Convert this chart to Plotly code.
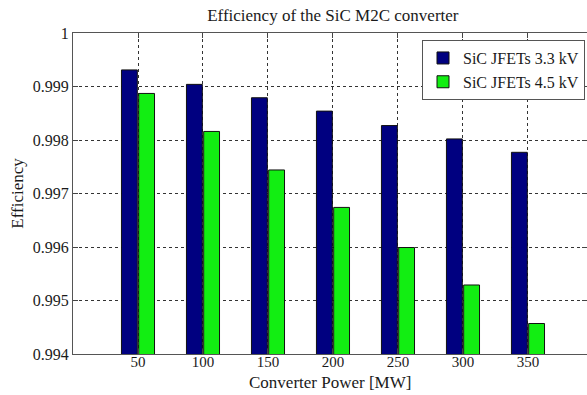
import plotly.graph_objects as go

# Converter power levels [MW]
power_mw = [50, 100, 150, 200, 250, 300, 350]

# Efficiency of the SiC M2C converter for the two JFET voltage classes
eff_jfet_33kv = [0.99931, 0.99904, 0.99879, 0.99854, 0.99827, 0.99802, 0.99777]
eff_jfet_45kv = [0.99887, 0.99816, 0.99744, 0.99674, 0.99599, 0.99529, 0.99457]

y_ticks = [0.994, 0.995, 0.996, 0.997, 0.998, 0.999, 1.0]
y_tick_text = ["0.994", "0.995", "0.996", "0.997", "0.998", "0.999", "1"]

FONT = "Liberation Serif, Times New Roman, serif"
INK = "#1a1a1a"
FS = 17

fig = go.Figure()
fig.add_trace(go.Bar(
    x=power_mw, y=eff_jfet_33kv, name="SiC JFETs 3.3 kV",
    marker=dict(color="#000080", line=dict(color="#111111", width=1)),
))
fig.add_trace(go.Bar(
    x=power_mw, y=eff_jfet_45kv, name="SiC JFETs 4.5 kV",
    marker=dict(color="#12EE12", line=dict(color="#111111", width=1)),
))

axis_common = dict(
    showline=True, linecolor="#555555", linewidth=1,
    showgrid=True, gridcolor="#333333", griddash="dot", gridwidth=1,
    ticks="inside", ticklen=5, tickcolor="#444444",
    mirror="ticks", zeroline=False,
    tickfont=dict(family=FONT, size=16, color=INK),
)

fig.update_layout(
    width=587, height=395,
    margin=dict(l=73, r=0, t=33, b=41),
    paper_bgcolor="white", plot_bgcolor="white",
    barmode="group", bargap=0.47, bargroupgap=0.08,
    font=dict(family=FONT, size=FS, color=INK),
    title=dict(
        text="Efficiency of the SiC M2C converter",
        x=0.567, xref="container", xanchor="center",
        y=1 - 15 / 395, yref="container", yanchor="middle",
        font=dict(family=FONT, size=FS, color=INK),
    ),
    xaxis=dict(
        axis_common, range=[0, 395.4], tickvals=power_mw,
        ticklabelstandoff=-6,
        tickfont=dict(family=FONT, size=15, color=INK),
    ),
    yaxis=dict(
        axis_common, range=[0.994, 1.0], tickvals=y_ticks, ticktext=y_tick_text,
        title=dict(text="Efficiency", standoff=4,
                   font=dict(family=FONT, size=FS, color=INK)),
    ),
    legend=dict(
        x=0.679, y=0.978, xanchor="left", yanchor="top",
        bgcolor="white", bordercolor="#555555", borderwidth=1,
        font=dict(family=FONT, size=16, color=INK),
        itemwidth=30, tracegroupgap=0,
    ),
    annotations=[dict(
        text="Converter Power [MW]", showarrow=False,
        xref="paper", yref="paper", x=0.5, xanchor="center",
        y=-(383 - 354) / 321, yanchor="middle",
        font=dict(family=FONT, size=FS, color=INK),
    )],
)

fig.write_html("out.html")
